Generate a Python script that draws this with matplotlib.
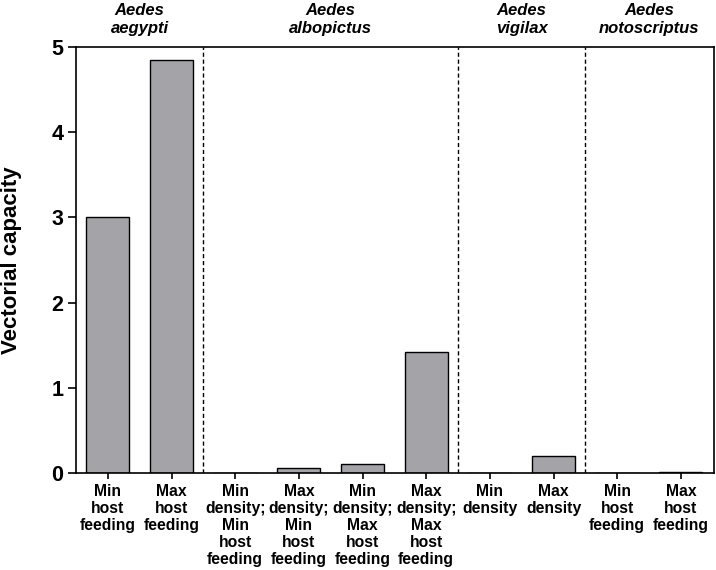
import matplotlib.pyplot as plt
import numpy as np

plt.rcParams['font.family'] = ['Liberation Sans', 'DejaVu Sans']

categories = [
    "Min\nhost\nfeeding", "Max\nhost\nfeeding",
    "Min\ndensity;\nMin\nhost\nfeeding", "Max\ndensity;\nMin\nhost\nfeeding",
    "Min\ndensity;\nMax\nhost\nfeeding", "Max\ndensity;\nMax\nhost\nfeeding",
    "Min\ndensity", "Max\ndensity",
    "Min\nhost\nfeeding", "Max\nhost\nfeeding",
]
capacity = [3.0, 4.85, 0.005, 0.055, 0.10, 1.42, 0.005, 0.20, 0.0, 0.015]
species = ["Aedes\naegypti", "Aedes\nalbopictus", "Aedes\nvigilax", "Aedes\nnotoscriptus"]
group_sizes = [2, 4, 2, 2]
yticks = [0, 1, 2, 3, 4, 5]

fig = plt.figure(figsize=(7.16, 5.7), dpi=100)
ax = fig.add_axes([76 / 716, 1 - 473 / 570, (714 - 76) / 716, (473 - 47) / 570])

x = np.arange(len(capacity))
ax.bar(x, capacity, width=0.675, color='#a3a3a8', edgecolor='black', linewidth=1.0)

# group separators and species names
bounds = np.cumsum([0] + group_sizes)
for b in bounds[1:-1]:
    ax.axvline(b - 0.5, color='black', linestyle=(0, (3, 2)), linewidth=1.0)
for name, lo, hi in zip(species, bounds[:-1], bounds[1:]):
    ax.text((lo + hi - 1) / 2, 1.025, name, transform=ax.get_xaxis_transform(),
            ha='center', va='bottom', fontsize=12, fontweight='bold',
            fontstyle='italic', linespacing=1.3)

ax.set_xlim(-0.5, 9.52)
ax.set_ylim(0, 5)
ax.set_yticks(yticks)
ax.set_yticklabels([str(t) for t in yticks], fontsize=15.5, fontweight='bold')
ax.set_xticks(x)
ax.set_xticklabels(categories, fontsize=11.3, fontweight='bold', linespacing=1.17)
ax.tick_params(axis='y', direction='out', length=6, width=1.2, pad=3)
ax.tick_params(axis='x', direction='out', length=4, width=1.2, pad=4)
for s in ax.spines.values():
    s.set_linewidth(1.2)
ax.set_ylabel("Vectorial capacity", fontsize=16, fontweight='bold')
ax.yaxis.set_label_coords(-54 / 638, 0.5)

fig.savefig("out.png", dpi=100)
